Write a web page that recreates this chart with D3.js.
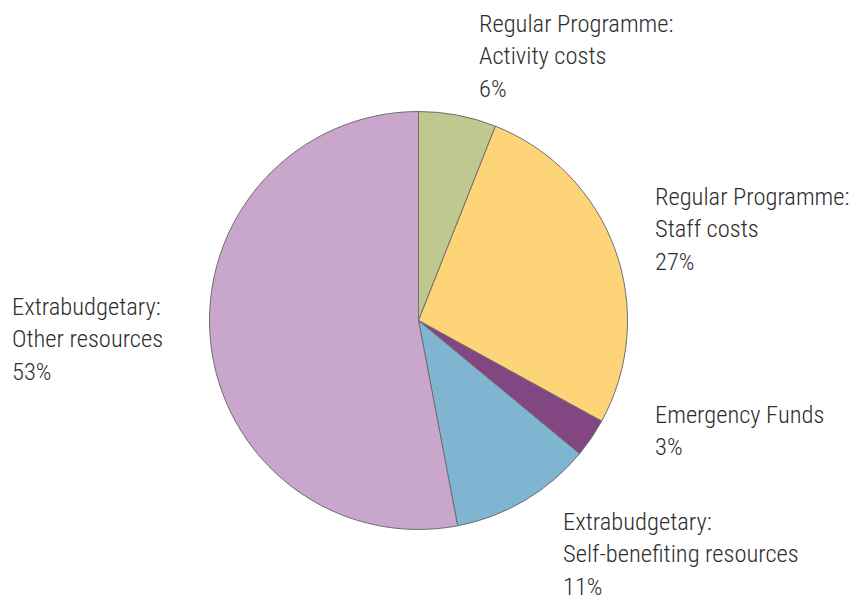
<!DOCTYPE html>
<html>
<head>
<meta charset="utf-8">
<script src="https://cdn.jsdelivr.net/npm/d3@7"></script>
<style>
  body { margin: 0; background: #fff; }
  text { font-family: "Roboto Condensed", "Liberation Sans Narrow", "Arial Narrow", sans-serif; font-weight: 300; }
</style>
</head>
<body>
<svg id="chart" width="852" height="600"></svg>
<script>
// data, clockwise from 12 o'clock
const categories = [
  "Regular Programme: Activity costs",
  "Regular Programme: Staff costs",
  "Emergency Funds",
  "Extrabudgetary: Self-benefiting resources",
  "Extrabudgetary: Other resources"
];
const shares = [6, 27, 3, 11, 53];
const labelLines = [
  ["Regular Programme:", "Activity costs"],
  ["Regular Programme:", "Staff costs"],
  ["Emergency Funds"],
  ["Extrabudgetary:", "Self-benefiting resources"],
  ["Extrabudgetary:", "Other resources"]
];
const colors = ["#bfc88e", "#fed478", "#824683", "#80b5d1", "#c9a6cc"];

// label anchors (left x, first baseline)
const labelPos = [[479, 32], [655, 205], [655, 423], [563, 530], [12, 315]];

const cx = 418.5, cy = 320.5, radius = 209;
const lineH = 32.3;

const svg = d3.select("#chart");

const pie = d3.pie().sort(null).value((d) => d.value);
const arc = d3.arc().innerRadius(0).outerRadius(radius);

const data = categories.map((c, i) => ({ name: c, value: shares[i], i: i }));

const g = svg.append("g").attr("transform", `translate(${cx},${cy})`);
g.selectAll("path")
  .data(pie(data))
  .join("path")
  .attr("d", arc)
  .attr("fill", (d) => colors[d.data.i])
  .attr("stroke", "#6e6e6e")
  .attr("stroke-width", 1);

const labels = svg.append("g")
  .selectAll("text")
  .data(data)
  .join("text")
  .attr("x", (d) => labelPos[d.i][0])
  .attr("y", (d) => labelPos[d.i][1])
  .attr("fill", "#2e2e2e")
  .style("font-size", "24.5px");

labels.each(function (d) {
  const lines = labelLines[d.i].concat([d.value + "%"]);
  d3.select(this)
    .selectAll("tspan")
    .data(lines)
    .join("tspan")
    .attr("x", labelPos[d.i][0])
    .attr("dy", (l, k) => (k === 0 ? 0 : lineH))
    .text((l) => l);
});
</script>
</body>
</html>
